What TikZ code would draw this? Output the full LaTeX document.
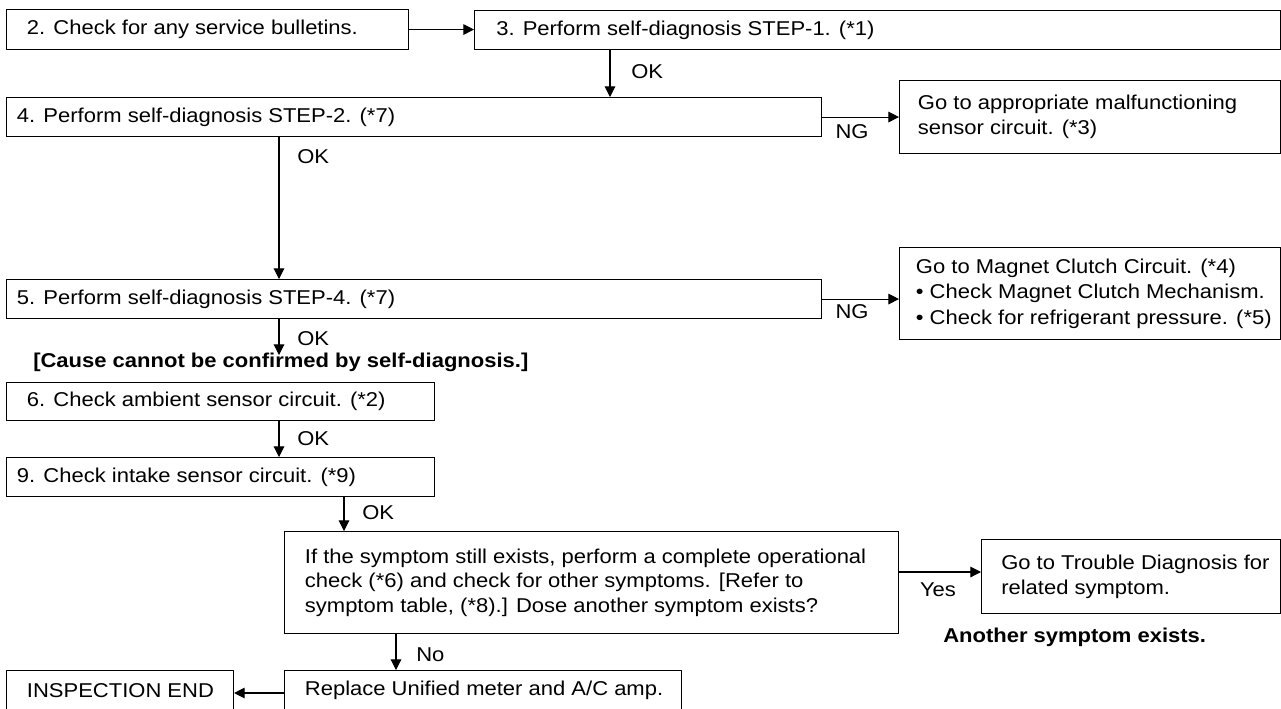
\documentclass[tikz,border=0pt]{standalone}
\usepackage{fontspec}
\setmainfont{Liberation Sans}[FakeStretch=1.1]
\usetikzlibrary{arrows.meta,calc}
\begin{document}
\begin{tikzpicture}[x=0.75pt,y=-0.75pt,
  box/.style={draw, line width=0.8pt, inner sep=0pt, anchor=north west},
  sz/.style 2 args={minimum width=#1*0.75pt, minimum height=#2*0.75pt},
  txt/.style={inner sep=0pt, anchor=west, align=left, font=\fontsize{15pt}{19pt}\selectfont},
  lbl/.style={inner sep=0pt, font=\fontsize{15pt}{19pt}\selectfont},
  bld/.style={inner sep=0pt, anchor=west, font=\fontsize{15pt}{19pt}\selectfont\bfseries},
  arr/.style={line width=0.8pt, -{Triangle[length=8pt,width=8pt]}}]
\useasboundingbox (0,0) rectangle (1281,708);
\clip (0,0) rectangle (1281,708);
\fill[white] (0,0) rectangle (1281,708);
% boxes
\node[box, sz={402}{40}] (b2) at (6,9) {};
\node[box, sz={806}{39}] (b3) at (474,10) {};
\node[box, sz={815}{39}] (b4) at (6,97) {};
\node[box, sz={381}{73}] (goto) at (899,80) {};
\node[box, sz={815}{39}] (b5) at (6,279) {};
\node[box, sz={381}{92}] (mag) at (899,247) {};
\node[box, sz={428}{38}] (b6) at (6,382) {};
\node[box, sz={428}{39}] (b9) at (6,457) {};
\node[box, sz={614}{102}] (big) at (284,531) {};
\node[box, sz={299}{74}] (trouble) at (981,539) {};
\node[box, sz={397}{40}] (rep) at (284,670) {};
\node[box, sz={227}{40}] (insp) at (6,670) {};
% texts
\node[txt] (t2) at ([xshift=15.5pt]b2.west) {2. Check for any service bulletins.};
\node[txt] (t3) at ([xshift=16.5pt]b3.west) {3. Perform self-diagnosis STEP-1. (*1)};
\node[txt] (t4) at ([xshift=8pt]b4.west) {4. Perform self-diagnosis STEP-2. (*7)};
\node[txt] (tgoto) at ([xshift=14pt]goto.west) {Go to appropriate malfunctioning\\sensor circuit. (*3)};
\node[txt] (t5) at ([xshift=8pt]b5.west) {5. Perform self-diagnosis STEP-4. (*7)};
\node[txt] (tmag) at ([xshift=12.5pt]mag.west) {Go to Magnet Clutch Circuit. (*4)\\{\textbullet} Check Magnet Clutch Mechanism.\\{\textbullet} Check for refrigerant pressure. (*5)};
\node[txt] (t6) at ([xshift=15.5pt]b6.west) {6. Check ambient sensor circuit. (*2)};
\node[txt] (t9) at ([xshift=8pt]b9.west) {9. Check intake sensor circuit. (*9)};
\node[txt, font=\fontsize{15pt}{18.4pt}\selectfont] (tbig) at ([xshift=15.5pt]big.west) {If the symptom still exists, perform a complete operational\\check (*6) and check for other symptoms. [Refer to\\symptom table, (*8).] Dose another symptom exists?};
\node[txt] (ttrouble) at ([xshift=15pt]trouble.west) {Go to Trouble Diagnosis for\\related symptom.};
\node[txt] (trep) at ([xshift=15.5pt]rep.west) {Replace Unified meter and A/C amp.};
\node[txt] (tinsp) at ([xshift=15.5pt]insp.west) {INSPECTION END};
% free text
\node[bld] (cause) at (33,362) {[Cause cannot be confirmed by self-diagnosis.]};
\node[bld] (another) at (943,637) {Another symptom exists.};
% helper coordinates
\coordinate (xa) at (610,0);
\coordinate (xb) at (279,0);
\coordinate (xc) at (344,0);
\coordinate (xd) at (396,0);
\coordinate (ya) at (0,572);
\coordinate (yb) at (0,693);
\coordinate (e5) at (279,355);
% connectors
\draw[arr] (b2.east) -- (b3.west |- b2.east);
\draw[arr] (b3.south -| xa) -- (b4.north -| xa);
\draw[arr] (b4.east) -- (goto.west |- b4.east);
\draw[arr] (b4.south -| xb) -- (b5.north -| xb);
\draw[arr] (b5.east) -- (mag.west |- b5.east);
\draw[arr] (b5.south -| xb) -- (e5);
\draw[arr] (b6.south -| xb) -- (b9.north -| xb);
\draw[arr] (b9.south -| xc) -- (big.north -| xc);
\draw[arr] (big.east |- ya) -- (trouble.west |- ya);
\draw[arr] (big.south -| xd) -- (rep.north -| xd);
\draw[arr] (rep.west |- yb) -- (insp.east |- yb);
% labels
\node[lbl, anchor=west] (ok1) at (631,72) {OK};
\node[lbl, anchor=west] (ok2) at (297,157) {OK};
\node[lbl, anchor=west] (ok3) at (297,339) {OK};
\node[lbl, anchor=west] (ok4) at (297,439) {OK};
\node[lbl, anchor=west] (ok5) at (362,513) {OK};
\node[lbl] (ng1) at (852,132) {NG};
\node[lbl] (ng2) at (852,312) {NG};
\node[lbl] (yes) at (938,590) {Yes};
\node[lbl, anchor=west] (no) at (416,655) {No};
\end{tikzpicture}
\end{document}
